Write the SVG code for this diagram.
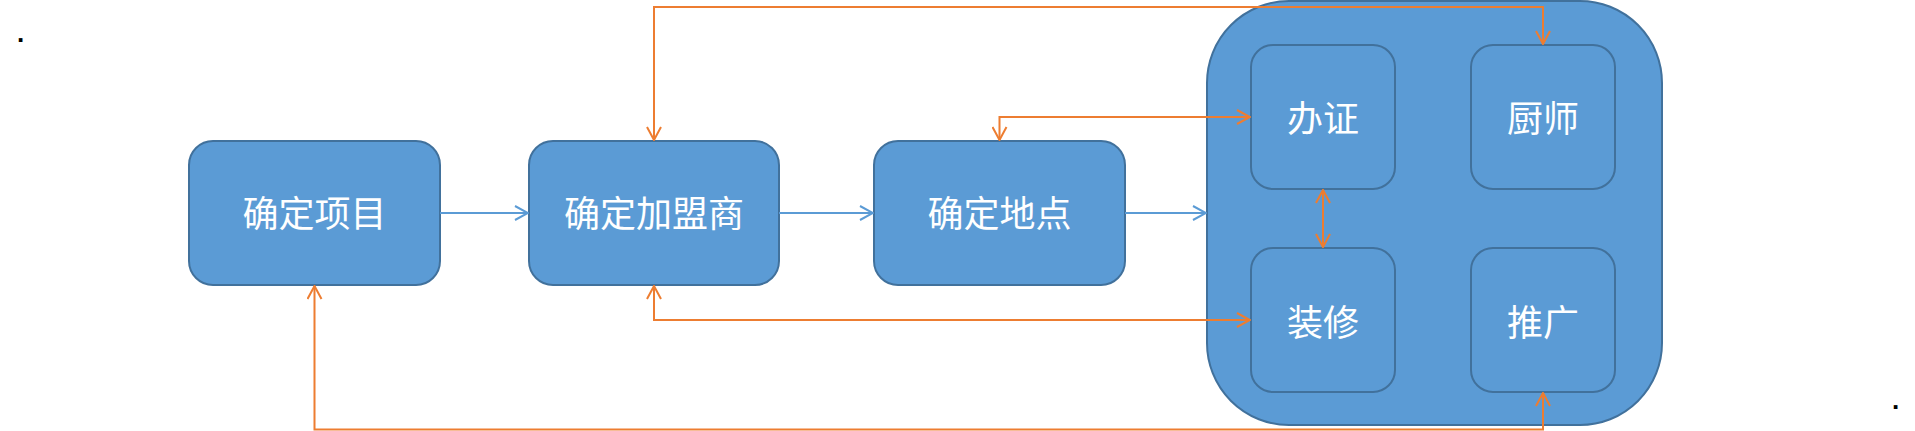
<svg xmlns="http://www.w3.org/2000/svg" width="1915" height="431" viewBox="0 0 1915 431">
<style>
.box{fill:#5B9BD5;stroke:#41719C;stroke-width:2}
.lbl{fill:#FFFFFF;font-family:"Noto Sans CJK SC","Noto Sans",sans-serif;font-size:36px;text-anchor:middle;dominant-baseline:central}
.blue{fill:none;stroke:#5B9BD5;stroke-width:2;marker-end:url(#ab)}
.org{fill:none;stroke:#ED7D31;stroke-width:2;marker-end:url(#ao);marker-start:url(#ao)}
.dot{fill:#000;font-family:"Liberation Sans",sans-serif;font-size:26px;font-weight:bold}
</style>
<defs>
<marker id="ab" markerUnits="userSpaceOnUse" viewBox="0 0 15 16" refX="14" refY="8" markerWidth="15" markerHeight="16" orient="auto-start-reverse"><path d="M1,1 L14,8 L1,15" fill="none" stroke="#5B9BD5" stroke-width="2"/></marker>
<marker id="ao" markerUnits="userSpaceOnUse" viewBox="0 0 15 16" refX="14" refY="8" markerWidth="15" markerHeight="16" orient="auto-start-reverse"><path d="M1,1 L14,8 L1,15" fill="none" stroke="#ED7D31" stroke-width="2"/></marker>
</defs>
<text class="dot" x="17" y="42">.</text>
<text class="dot" x="1892" y="409">.</text>
<g id="container"><rect class="box" x="1207" y="1" width="455" height="424" rx="82" ry="82"/></g>
<g id="n1"><rect class="box" x="189" y="141" width="251" height="144" rx="24"/><text class="lbl" x="314.5" y="211">确定项目</text></g>
<g id="n2"><rect class="box" x="529" y="141" width="250" height="144" rx="24"/><text class="lbl" x="654" y="211">确定加盟商</text></g>
<g id="n3"><rect class="box" x="874" y="141" width="251" height="144" rx="24"/><text class="lbl" x="999.5" y="211">确定地点</text></g>
<g id="n4"><rect class="box" x="1251" y="45" width="144" height="144" rx="22"/><text class="lbl" x="1323" y="116">办证</text></g>
<g id="n5"><rect class="box" x="1471" y="45" width="144" height="144" rx="22"/><text class="lbl" x="1543" y="116">厨师</text></g>
<g id="n6"><rect class="box" x="1251" y="248" width="144" height="144" rx="22"/><text class="lbl" x="1323" y="320">装修</text></g>
<g id="n7"><rect class="box" x="1471" y="248" width="144" height="144" rx="22"/><text class="lbl" x="1543" y="320">推广</text></g>
<g id="connectors">
<path class="blue" d="M440,213 H528"/>
<path class="blue" d="M779,213 H873"/>
<path class="blue" d="M1125,213 H1206"/>
<path class="org" d="M654,140 V7 H1543 V44"/>
<path class="org" d="M999.5,140 V117 H1250"/>
<path class="org" d="M654,286 V320 H1250"/>
<path class="org" d="M314.5,286 V429.5 H1543 V393"/>
<path class="org" d="M1323,190 V247"/>
</g>
</svg>
